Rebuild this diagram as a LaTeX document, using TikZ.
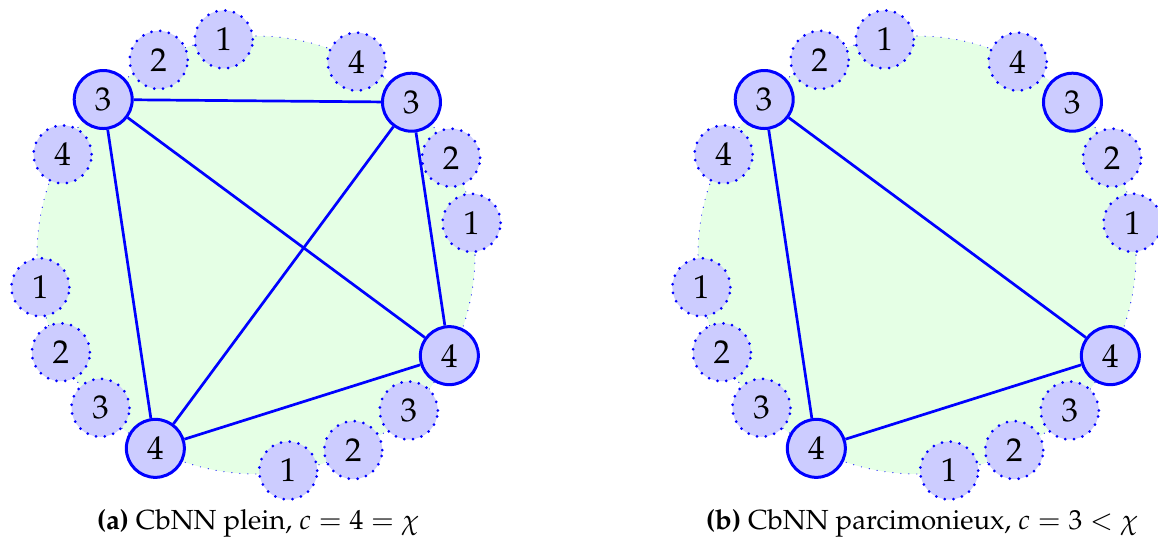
\documentclass[tikz,border=0pt]{standalone}
\usepackage[T1]{fontenc}
\usepackage{mathpazo}
\begin{document}
\begin{tikzpicture}[x=0.5pt,y=0.5pt,
  neuron/.style={circle, fill=blue!20, minimum size=29pt, inner sep=0pt, font=\fontsize{16.5}{16.5}\selectfont},
  active/.style={neuron, draw=blue, line width=1.5pt},
  idle/.style={neuron, draw=blue, line width=1.5pt, dash pattern=on 0pt off 4.4pt, line cap=round},
  edge/.style={blue, line width=1.35pt},
  disk/.style={fill=green!10, draw=blue, line width=0.6pt, dash pattern=on 0pt off 4pt, line cap=round},
  caption/.style={font=\fontsize{13.8}{15}\selectfont}]
\useasboundingbox (0,0) rectangle (1158,546);
% ---------- (a)
\begin{scope}[shift={(256,291)}]
  \path[disk] (0,0) circle (219);
  \foreach \k/\j/\s in {0/1/idle,0/2/idle,0/3/active,0/4/idle,
                        1/1/idle,1/2/idle,1/3/active,1/4/idle,
                        2/1/idle,2/2/idle,2/3/idle,2/4/active,
                        3/1/idle,3/2/idle,3/3/idle,3/4/active}
    \node[\s] (a-\k-\j) at ({8.5+90*\k+18*(\j-1)}:218) {\j};
  \draw[edge] (a-0-3) -- (a-1-3);
  \draw[edge] (a-1-3) -- (a-2-4);
  \draw[edge] (a-1-3) -- (a-3-4);
  \draw[edge] (a-0-3) -- (a-2-4);
  \draw[edge] (a-0-3) -- (a-3-4);
  \draw[edge] (a-2-4) -- (a-3-4);
\end{scope}
\node[caption] (capa) at (258,23) {\textbf{(a)} CbNN plein, $c=4=\chi$};
% ---------- (b)
\begin{scope}[shift={(917,291)}]
  \path[disk] (0,0) circle (219);
  \foreach \k/\j/\s in {0/1/idle,0/2/idle,0/3/active,0/4/idle,
                        1/1/idle,1/2/idle,1/3/active,1/4/idle,
                        2/1/idle,2/2/idle,2/3/idle,2/4/active,
                        3/1/idle,3/2/idle,3/3/idle,3/4/active}
    \node[\s] (b-\k-\j) at ({8.5+90*\k+18*(\j-1)}:218) {\j};
  \draw[edge] (b-1-3) -- (b-2-4);
  \draw[edge] (b-1-3) -- (b-3-4);
  \draw[edge] (b-2-4) -- (b-3-4);
\end{scope}
\node[caption] (capb) at (922,23) {\textbf{(b)} CbNN parcimonieux, $c=3<\chi$};
\end{tikzpicture}
\end{document}
